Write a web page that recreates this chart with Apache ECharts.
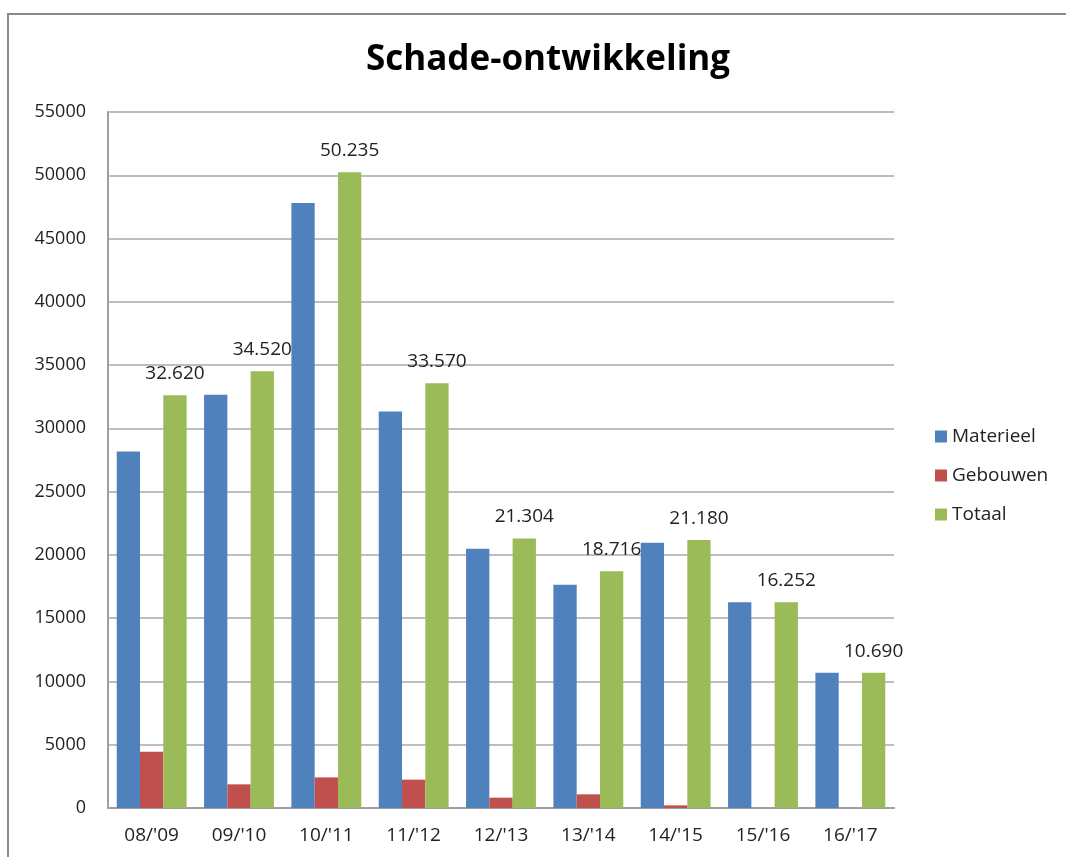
<!DOCTYPE html>
<html>
<head>
<meta charset="utf-8">
<script src="https://cdn.jsdelivr.net/npm/echarts@6/dist/echarts.min.js"></script>
<style>
  html, body { margin: 0; padding: 0; background: #fff; }
  /* kader rond de grafiek, loopt door buiten beeld rechts en onder */
  #frame { position: absolute; left: 7px; top: 13px; width: 1080px; height: 870px; border: 2px solid #8a8a8a; box-sizing: border-box; }
  #chart { position: absolute; left: 0; top: 0; width: 1066px; height: 857px; }
</style>
</head>
<body>
<div id="frame"></div>
<div id="chart"></div>
<script>
// seizoenen
const categories = ["08/'09", "09/'10", "10/'11", "11/'12", "12/'13", "13/'14", "14/'15", "15/'16", "16/'17"];
// schadebedragen per seizoen
const materieel = [28180, 32650, 47815, 31330, 20489, 17636, 20970, 16252, 10690];
const gebouwen = [4440, 1870, 2420, 2240, 815, 1080, 210, 0, 0];
const totaal = [32620, 34520, 50235, 33570, 21304, 18716, 21180, 16252, 10690];

const font = "'Open Sans', 'DejaVu Sans', sans-serif";

const chart = echarts.init(document.getElementById('chart'));

// getal met punt als duizendtalscheiding (32.620)
function nl(v) {
  return String(v).replace(/\B(?=(\d{3})+(?!\d))/g, '.');
}

const option = {
  animation: false,
  title: {
    text: 'Schade-ontwikkeling',
    left: 543,
    top: 38,
    textAlign: 'center',
    textStyle: { fontFamily: font, fontSize: 35, fontWeight: 'bold', color: '#000' }
  },
  legend: {
    orient: 'vertical',
    left: 930,
    top: 422,
    itemWidth: 12,
    itemHeight: 12,
    itemGap: 20,
    icon: 'rect',
    textStyle: { fontFamily: font, fontSize: 19, color: '#222', padding: [0, 0, 0, 0] },
    data: ['Materieel', 'Gebouwen', 'Totaal']
  },
  grid: { left: 108, right: 172, top: 112, bottom: 49, containLabel: false },
  xAxis: {
    type: 'category',
    data: categories,
    axisTick: { show: false },
    axisLine: { lineStyle: { color: '#a0a0a0', width: 2 } },
    axisLabel: { fontFamily: font, fontSize: 19, color: '#222', margin: 18 }
  },
  yAxis: {
    type: 'value',
    min: 0,
    max: 55000,
    interval: 5000,
    axisLine: { show: true, lineStyle: { color: '#a0a0a0', width: 2 } },
    axisTick: { show: false },
    splitLine: { lineStyle: { color: '#a8a8a8', width: 1.5 } },
    axisLabel: { fontFamily: font, fontSize: 18, color: '#222', margin: 22, formatter: v => String(v) }
  },
  series: [
    {
      name: 'Materieel',
      type: 'bar',
      data: materieel,
      barGap: '0%',
      barCategoryGap: '20%',
      itemStyle: { color: '#4f81bd' }
    },
    {
      name: 'Gebouwen',
      type: 'bar',
      data: gebouwen,
      itemStyle: { color: '#c0504d' }
    },
    {
      name: 'Totaal',
      type: 'bar',
      data: totaal,
      itemStyle: { color: '#9bbb59' },
      label: {
        show: true,
        position: 'top',
        distance: 12,
        fontFamily: font,
        fontSize: 19,
        color: '#222',
        formatter: p => nl(p.value)
      }
    }
  ]
};

chart.setOption(option);
</script>
</body>
</html>
